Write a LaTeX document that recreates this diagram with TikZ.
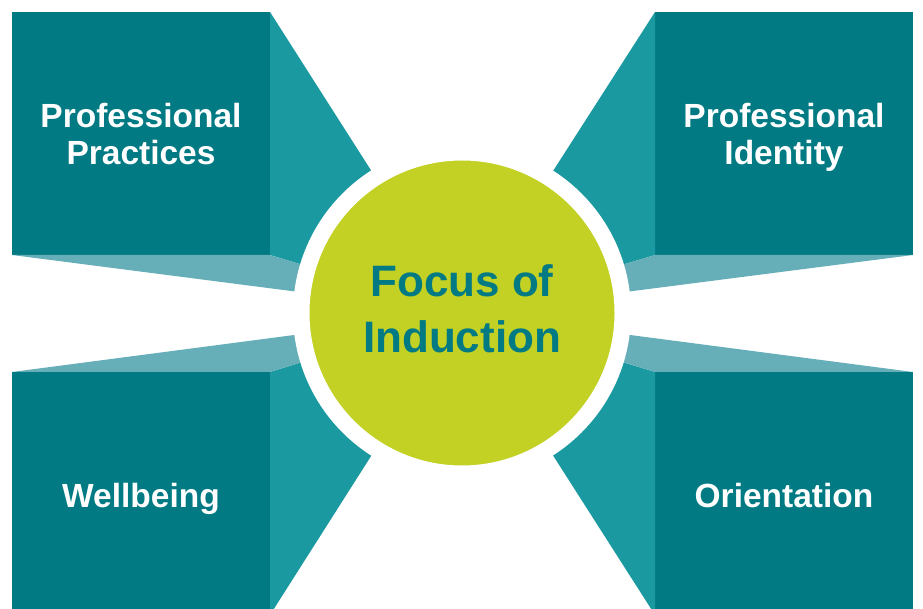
\documentclass[tikz,border=0pt]{standalone}
\usepackage{fontspec}
\setmainfont{Liberation Sans}
\definecolor{boxteal}{HTML}{017A83}
\definecolor{sideteal}{HTML}{1A99A0}
\definecolor{lightteal}{HTML}{66AFB8}
\definecolor{limegreen}{HTML}{C2D123}
\tikzset{
  boxnode/.style={rectangle, fill=boxteal, text=white, minimum width=258pt, minimum height=243pt,
    inner sep=0pt, outer sep=0pt},
  boxtext/.style={text=white, align=center, inner sep=0pt, text depth=0pt,
    font=\fontsize{33.5}{37.5}\selectfont\bfseries},
  sideface/.style={fill=sideteal},
  capface/.style={fill=lightteal},
  hubnode/.style={circle, fill=limegreen, draw=white, line width=16.5pt, minimum size=321.5pt,
    inner sep=0pt},
  hubtext/.style={text=boxteal, align=center, inner sep=0pt, text depth=0pt,
    font=\fontsize{44}{56}\selectfont\bfseries}
}
\begin{document}
\begin{tikzpicture}[x=1pt,y=1pt]
\clip (0,0) rectangle (923,608);
\fill[white] (0,0) rectangle (923,608);
\coordinate (C) at (462,295);
% boxes
\node[boxnode] (pp) at (141,474.5) {};
\node[boxnode] (pi) at (784,474.5) {};
\node[boxnode] (wb) at (141,114.5) {};
\node[boxnode] (or) at (784,114.5) {};
\node[boxtext] (pptext) at ([yshift=-0.5pt]pp.center) {Professional\\Practices};
\node[boxtext] (pitext) at ([yshift=-0.5pt]pi.center) {Professional\\Identity};
\node[boxtext] (wbtext) at ([yshift=-1.5pt]wb.center) {Wellbeing};
\node[boxtext] (ortext) at ([yshift=-2pt]or.center) {Orientation};
% extruded faces toward the centre
\fill[sideface] (pp.north east) -- (pp.south east) -- (C) -- cycle;
\fill[capface] (pp.south west) -- (pp.south east) -- (C) -- cycle;
\fill[sideface] (pi.north west) -- (pi.south west) -- (C) -- cycle;
\fill[capface] (pi.south east) -- (pi.south west) -- (C) -- cycle;
\fill[sideface] (wb.south east) -- (wb.north east) -- (C) -- cycle;
\fill[capface] (wb.north west) -- (wb.north east) -- (C) -- cycle;
\fill[sideface] (or.south west) -- (or.north west) -- (C) -- cycle;
\fill[capface] (or.north east) -- (or.north west) -- (C) -- cycle;
% hub
\node[hubnode] (hub) at (C) {};
\node[hubtext] (hubtext) at ([yshift=4.5pt]C) {Focus of\\Induction};
\end{tikzpicture}
\end{document}
